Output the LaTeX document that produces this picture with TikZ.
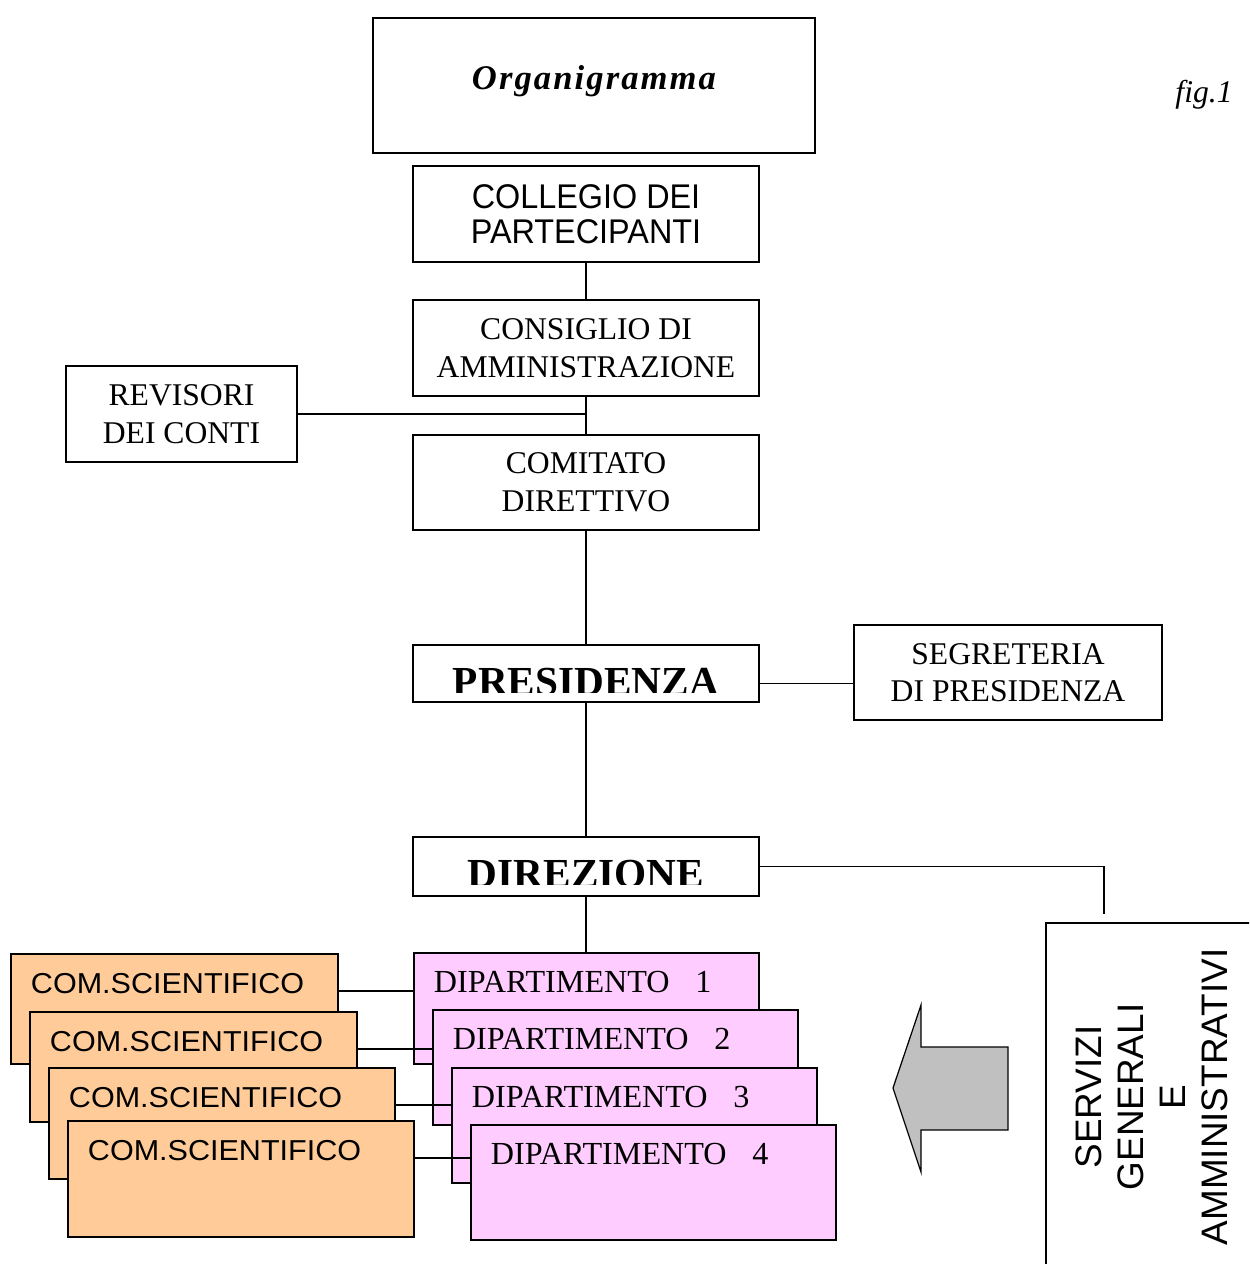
\documentclass[tikz,border=0pt]{standalone}
\usepackage{fontspec}
\setmainfont{Liberation Serif}
\setsansfont{Liberation Sans}[FakeStretch=0.945]
\newfontfamily\comfont{Liberation Sans}[FakeStretch=1.06]
\newfontfamily\servfont{Liberation Sans}
\newfontfamily\titlefont{Liberation Serif}[LetterSpace=6]
\usepackage{tikz}
\definecolor{peach}{HTML}{FFCC99}
\definecolor{lilac}{HTML}{FFCCFF}
\definecolor{arrowgray}{HTML}{C0C0C0}

\begin{document}
\begin{tikzpicture}[x=0.02cm, y=-0.02cm, line width=1.1pt]
\tikzstyle{box} = [draw, fill=white, align=center, inner sep=0pt, font=\fontsize{18}{21.4}\selectfont]
\tikzstyle{wide} = [box, minimum width=6.92cm]
\tikzstyle{head} = [wide, minimum height=1.14cm, text height=1cm, text depth=0.14cm, font=\fontsize{23.5}{26}\selectfont\bfseries]
\tikzstyle{stack} = [draw, anchor=north west, align=left, inner xsep=0.4cm, inner ysep=0pt, text height=0.79cm]
\tikzstyle{com} = [stack, fill=peach, font=\comfont\fontsize{16.4}{19}\selectfont]
\tikzstyle{dip} = [stack, fill=lilac, font=\fontsize{18.3}{21}\selectfont]

\useasboundingbox (0,0) rectangle (1249,1264);
\clip (0,0) rectangle (1249,1264);

\node[box, minimum width=8.84cm, minimum height=2.7cm, text height=1.43cm, text depth=1.27cm, font=\titlefont\fontsize{19.7}{22}\selectfont\bfseries\itshape] (org) at (594,85.5) {Organigramma};
\node[font=\itshape\fontsize{18}{20}\selectfont] (fig) at (1204,95) {fig.1};

\node[wide, minimum height=1.92cm, font=\sffamily\fontsize{19.5}{19.6}\selectfont] (coll) at (586,214) {COLLEGIO DEI\\PARTECIPANTI};
\node[wide, minimum height=1.92cm] (cons) at (586,348) {CONSIGLIO DI\\AMMINISTRAZIONE};
\node[box, minimum width=4.62cm, minimum height=1.92cm] (rev) at (181.5,414) {REVISORI\\DEI CONTI};
\node[wide, minimum height=1.9cm] (comd) at (586,482.5) {COMITATO\\DIRETTIVO};
\node[head] (pres) at (586,673.5) {PRESIDENZA};
\node[box, minimum width=6.16cm, minimum height=1.9cm] (segr) at (1008,672.5) {SEGRETERIA\\DI PRESIDENZA};
\node[head, minimum height=1.18cm, text depth=0.18cm] (dir) at (586,866.5) {DIREZIONE};

% lettering cut at the bottom
\fill[white] ([shift={(1.6pt,1.6pt)}]pres.south west) rectangle ([shift={(-1.6pt,0.2cm)}]pres.south east);
\fill[white] ([shift={(1.6pt,1.6pt)}]dir.south west) rectangle ([shift={(-1.6pt,0.24cm)}]dir.south east);

\foreach \i/\x/\y/\w/\d in {1/10/953/5.74/1.41, 2/29/1011/5.74/1.41, 3/48/1067/6.12/1.43, 4/67/1120/6.12/1.53}
\node[com, text width=\w cm, text depth=\d cm] (com\i) at (\x,\y) {COM.SCIENTIFICO};
\foreach \i/\x/\y/\w/\d in {1/413/952/6.1/1.43, 2/432/1009/6.5/1.51, 3/451/1067/6.5/1.51, 4/470/1124/6.5/1.51}
\node[dip, text width=\w cm, text depth=\d cm] (dip\i) at (\x,\y) {DIPARTIMENTO\hspace{0.8em}\i};

\node[draw, line width=0.8pt, rotate=90, minimum width=6.96cm, minimum height=4.24cm, align=center, font=\servfont\fontsize{21}{23.8}\selectfont] (serv) at (1152,1097) {SERVIZI\\GENERALI\\E\\AMMINISTRATIVI};

\foreach \from/\to in {coll/cons, cons/comd, comd/pres, pres/dir}
\draw (\from) -- (\to);
\draw (dir.south) -- (dir.south |- dip1.north);
\draw (rev) -- (rev -| cons.south);
\coordinate (ps) at ([yshift=-0.2cm]pres.east);
\draw (ps) -- (ps -| segr.west);
\coordinate (st) at (1104,914);
\draw (dir) -| (st);
\foreach \i in {1,...,4} {
\coordinate (c\i) at ([yshift=-0.76cm]com\i.north east);
\draw (c\i) -- (c\i -| dip\i.west);
}

\filldraw[fill=arrowgray, line width=0.7pt] (893,1088) -- (921,1005) -- (921,1047) -- (1008,1047) -- (1008,1130) -- (921,1130) -- (921,1172) -- cycle;

\end{tikzpicture}
\end{document}
